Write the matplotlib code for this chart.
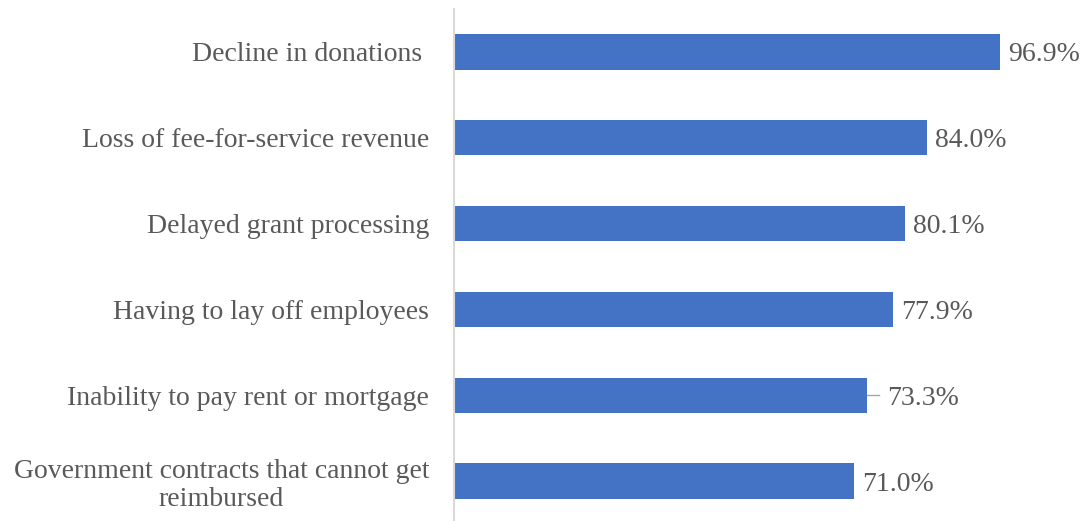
import matplotlib
matplotlib.use("Agg")
import matplotlib.pyplot as plt

categories = ["Decline in donations ", "Loss of fee-for-service revenue", "Delayed grant processing",
              "Having to lay off employees", "Inability to pay rent or mortgage",
              "Government contracts that cannot get\nreimbursed"]
values = [96.9, 84.0, 80.1, 77.9, 73.3, 71.0]
value_labels = ["96.9%", "84.0%", "80.1%", "77.9%", "73.3%", "71.0%"]

plt.rcParams['font.family'] = ['Liberation Serif', 'DejaVu Serif']
fig = plt.figure(figsize=(10.86, 5.21), dpi=100)
ax = fig.add_axes([454/1086, -3/521, 563.5/1086, 515/521])

FS = 20
TC = "#595959"
y = list(range(len(categories)))[::-1]
ax.barh(y, values, height=0.41, color="#4472C4")
ax.set_ylim(-0.5, 5.5)
ax.set_xlim(0, 100)
for yi, v, lab in zip(y, values, value_labels):
    if lab == "73.3%":
        ax.plot([v, v + 2.2], [yi, yi], color="#A6A6A6", lw=1)
        ax.text(v + 3.5, yi, lab, va="center_baseline", ha="left", fontsize=FS, color=TC)
    else:
        ax.text(v + 1.4, yi, lab, va="center_baseline", ha="left", fontsize=FS, color=TC)

ax.set_yticks(y)
ax.set_yticklabels(categories, fontsize=FS, color=TC, linespacing=1.15)
for t in ax.get_yticklabels():
    t.set_multialignment("center")
ax.tick_params(axis="y", length=0, pad=18)
ax.set_xticks([])
for s in ["top", "right", "bottom"]:
    ax.spines[s].set_visible(False)
ax.spines["left"].set_color("#D9D9D9")
ax.spines["left"].set_linewidth(1.5)

fig.savefig("out.png", dpi=100)
